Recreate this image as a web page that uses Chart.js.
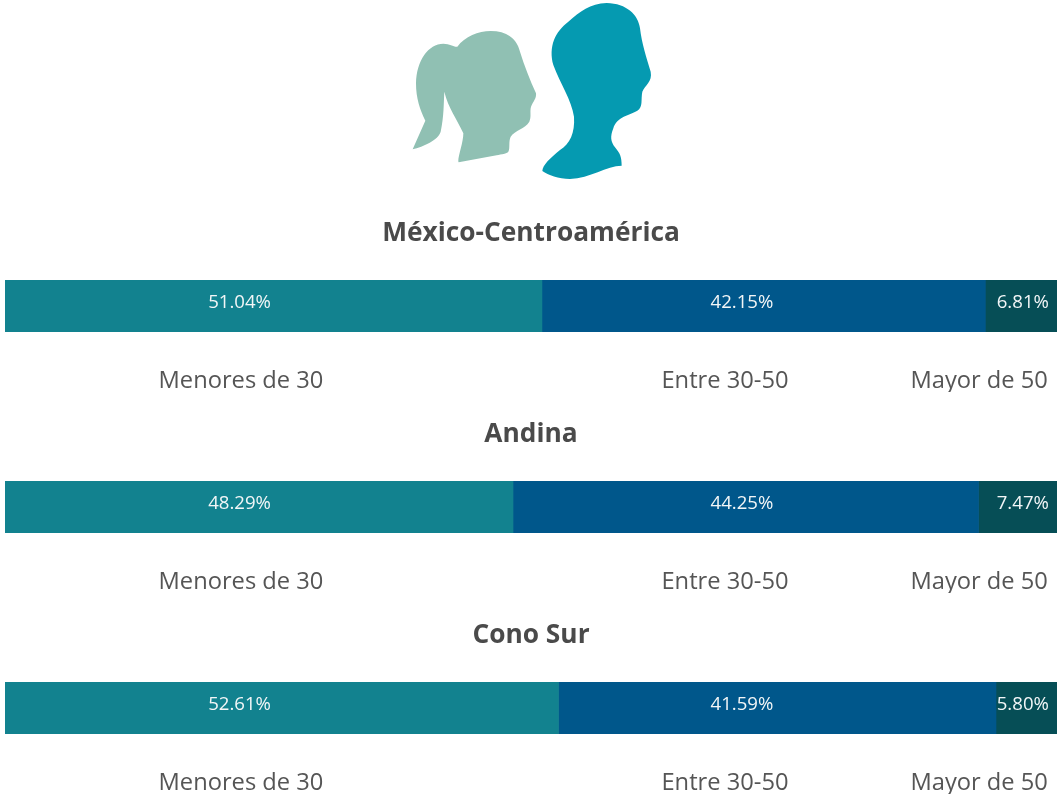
<!DOCTYPE html>
<html>
<head>
<meta charset="utf-8">
<script src="https://cdn.jsdelivr.net/npm/chart.js@4"></script>
<style>
    html, body { margin:0; padding:0; background:#fff; overflow:hidden; }
    #page { position:relative; width:1057px; height:801px; overflow:hidden; }
    #page canvas { position:absolute; left:0; }
    #heads { position:absolute; left:400px; top:0; }
</style>
</head>
<body>
<div id="page">
    <!-- Silhouettes -->
    <svg id="heads" width="270" height="190" viewBox="0 0 810 570">
        <path fill="#90C0B3" d="M38 448 L76 362 C60 330 48 295 48 250 C50 180 85 132 130 131 C150 131 160 141 172 140 C195 110 235 93 272 93 C320 93 350 115 360 155 C372 195 390 240 408 280 C410 298 395 308 392 325 C390 340 394 350 388 365 C375 387 345 390 332 410 C325 425 331 445 325 455 C320 462 305 462 290 466 L176 487 C170 480 190 430 190 400 C170 355 145 325 133 275 C131 310 132 350 122 395 C115 420 70 440 38 448 Z"/>
        <path fill="#059AB1" d="M427 513 C428 495 450 475 480 450 C510 430 525 400 522 350 C515 300 480 250 460 195 C445 140 465 95 505 65 C540 35 570 10 620 9 C680 10 715 45 720 85 C725 130 740 175 752 215 C758 245 735 255 727 275 C722 300 730 320 712 332 C690 345 650 350 640 385 C630 410 632 425 645 442 C660 460 665 470 665 497 C620 497 570 535 510 537 C475 537 445 525 427 513 Z"/>
    </svg>
    <canvas id="chart0" width="1057" height="194" style="top:205px"></canvas>
    <canvas id="chart1" width="1057" height="194" style="top:406px"></canvas>
    <canvas id="chart2" width="1057" height="194" style="top:607px"></canvas>
</div>
<script>
const regions = ['México-Centroamérica', 'Andina', 'Cono Sur'];
const ageGroups = ['Menores de 30', 'Entre 30-50', 'Mayor de 50'];
const menores30 = [51.04, 48.29, 52.61];
const entre3050 = [42.15, 44.25, 41.59];
const mayor50 = [6.81, 7.47, 5.80];

const ageColors = ['#12828F', '#00578B', '#064E56'];
// where the captions sit on the 0-100 axis (they do not follow the segments)
const captionAt = [22.43, 68.44, 92.6];
const valueAt = [22.3, 70.05, 96.75];

// value text inside each bar segment
const valueLabels = {
    id: 'valueLabels',
    afterDatasetsDraw(chart) {
        const ctx = chart.ctx;
        const xScale = chart.scales.x;
        const y = chart.getDatasetMeta(0).data[0].y;
        ctx.save();
        ctx.font = '18.6px "Open Sans"';
        ctx.fillStyle = '#f2f6f7';
        ctx.textAlign = 'center';
        ctx.textBaseline = 'middle';
        chart.data.datasets.forEach((ds, i) => {
            ctx.fillText(ds.data[0].toFixed(2) + '%', xScale.getPixelForValue(valueAt[i]), y - 3);
        });
        ctx.restore();
    }
};

regions.forEach((region, r) => {
    const values = [menores30[r], entre3050[r], mayor50[r]];
    new Chart(document.getElementById('chart' + r), {
        type: 'bar',
        data: {
            labels: [region],
            datasets: ageGroups.map((g, i) => ({
                label: g,
                data: [values[i]],
                backgroundColor: ageColors[i],
                barPercentage: 1,
                categoryPercentage: 1
            }))
        },
        options: {
            indexAxis: 'y',
            responsive: false,
            animation: false,
            layout: { padding: { left: 5, right: 0, top: 0, bottom: 7 } },
            plugins: {
                legend: { display: false },
                tooltip: { enabled: false },
                title: {
                    display: true,
                    text: region,
                    color: '#4a4a4a',
                    font: { family: '"Open Sans"', size: 26.3, weight: 'bold' },
                    padding: { top: 13, bottom: 30.4 }
                }
            },
            scales: {
                y: { display: false, stacked: true },
                x: {
                    stacked: true,
                    min: 0,
                    max: 100,
                    border: { display: false },
                    grid: { display: false, drawTicks: false },
                    afterBuildTicks(axis) { axis.ticks = captionAt.map(v => ({ value: v })); },
                    afterFit(axis) {
                        // keep the bars full width, captions must not eat into the plot
                        axis.height = 60;
                        axis.paddingLeft = 0;
                        axis.paddingRight = 0;
                    },
                    ticks: {
                        autoSkip: false,
                        maxRotation: 0,
                        padding: 35,
                        color: '#555555',
                        font: { family: '"Open Sans"', size: 23.7 },
                        callback(value, index) { return ageGroups[index]; }
                    }
                }
            }
        },
        plugins: [valueLabels]
    });
});
</script>
</body>
</html>
